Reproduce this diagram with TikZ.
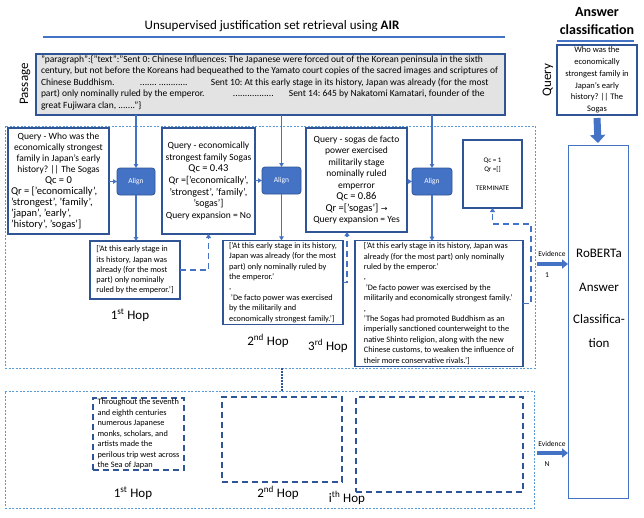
\documentclass[tikz,border=0pt]{standalone}
\usepackage{fontspec}
\setmainfont{Carlito}
\newfontfamily\djv{DejaVu Sans}
\usetikzlibrary{arrows.meta,calc}
\definecolor{bdark}{HTML}{2F5597}
\definecolor{bmid}{HTML}{4472C4}
\definecolor{bpanel}{HTML}{5B9BD5}
\definecolor{pgray}{HTML}{E3E3E3}
\newcommand\myfs[2]{\fontsize{#1}{#2}\selectfont}
\begin{document}
\frenchspacing
\begin{tikzpicture}[x=1pt,y=-1pt,
 every node/.style={inner sep=1pt, outer sep=0pt},
 box/.style={draw=bdark, line width=1.5pt, fill=white, inner sep=2pt},
 panel/.style={draw=bpanel, line width=0.9pt, dash pattern=on 2pt off 1.5pt},
 hdash/.style={draw=bdark, line width=1.8pt, dash pattern=on 6pt off 4pt},
 alignbox/.style={draw=bdark, fill=bmid, rounded corners=3pt, line width=0.8pt, text=white, font=\myfs{7.5}{9}, minimum height=27pt, minimum width=39pt},
 conn/.style={draw=bmid, line width=1.2pt, -{Triangle[length=4pt,width=4.5pt]}},
 dconn/.style={draw=bmid, line width=1.8pt, dash pattern=on 6pt off 4pt, -{Triangle[length=4pt,width=5pt]}},
 hop/.style={font=\myfs{13}{15}},
 fatarrow/.style={draw=bmid, line width=7pt, -{Triangle[length=8pt,width=15pt]}},
 evarrow/.style={draw=bmid, line width=4pt, -{Triangle[length=6pt,width=9pt]}},
 evlabel/.style={font=\myfs{7.5}{9}},
]
\useasboundingbox (0,0) rectangle (644,517);
\fill[white] (0,0) rectangle (644,517);

% panels
\node[panel, minimum width=530pt, minimum height=242pt] (top) at (270,247) {};
\node[panel, minimum width=529pt, minimum height=117pt] (bot) at (269.5,449.5) {};
\draw[bdark, line width=1.6pt, dash pattern=on 1.5pt off 1.5pt] ([xshift=12pt]top.south) -- ([xshift=12.5pt]bot.north);

% titles
\node[font=\myfs{13}{15}] (title) at (272,26) {Unsupervised justification set retrieval using \textbf{AIR}};
\draw[bmid, line width=1.6pt] (43,37) -- (505,37);
\node[font=\bfseries\myfs{14}{17.5}, align=center] (acl) at (597,21) {Answer\\classification};
\draw[bmid, line width=2pt] (557,41) -- (634,41);

% passage
\node[font=\myfs{13}{15}, rotate=90] (plabel) at (25,84) {Passage};
\node[box, fill=pgray, minimum width=469pt, minimum height=61pt, anchor=north west] (passage) at (36,54) {};
\node[anchor=north west, align=left, inner sep=0pt, font=\myfs{9.5}{11.5}] (ptext) at (41,55.5) {"paragraph":\{"text":"Sent 0: Chinese Influences: The Japanese were forced out of the Korean peninsula in the sixth\\
century, but not before the Koreans had bequeathed to the Yamato court copies of the sacred images and scriptures of\\
\makebox[99pt][l]{Chinese Buddhism.}\makebox[71pt][l]{....... ............}Sent 10: At this early stage in its history, Japan was already (for the most\\
\makebox[192pt][l]{part) only nominally ruled by the emperor.}\makebox[56pt][l]{.................}Sent 14: 645 by Nakatomi Kamatari, founder of the\\
great Fujiwara clan, ......."\}};

% query (right)
\node[font=\myfs{13}{15}, rotate=90] (qlabel) at (548,80) {Query};
\node[box, minimum width=80pt, minimum height=70pt, align=center, font=\myfs{8.5}{11.7}] (query) at (597,80) {Who was the\\economically\\strongest family in\\Japan's early\\history? || The\\Sogas};

% roberta
\node[draw=bmid, line width=1pt, minimum width=60pt, minimum height=353pt] (rob) at (598,321.5) {};
\node[align=center, font=\myfs{13}{15}] (robtext) at (599,298) {RoBERTa\\[19pt]Answer\\[17pt]Classifica-\\[9pt]tion};
\draw[fatarrow] ([yshift=-3pt]query.south) -- ([yshift=2pt]rob.north);

% hop 1..3 queries
\node[box, minimum width=101pt, minimum height=106pt, align=center, font=\myfs{9.5}{11}] (q1) at (58.5,181) {Query - Who was the\\economically strongest\\family in Japan's early\\history? || The Sogas\\{\myfs{10.5}{11}Qc = 0}\\
\makebox[95pt][l]{\myfs{10.5}{11}Qr = ['economically',}\\
\makebox[95pt][l]{\myfs{10.5}{11}'strongest', 'family',}\\
\makebox[95pt][l]{\myfs{10.5}{11}'japan', 'early',}\\
\makebox[95pt][l]{\myfs{10.5}{11}'history', 'sogas']}};
\node[box, minimum width=93pt, minimum height=106pt, align=center, font=\myfs{9.5}{11.6}] (q2) at (208.5,181) {Query - economically\\strongest family Sogas\\{\myfs{10.5}{11}Qc = 0.43}\\{\myfs{10}{11}Qr =['economically',}\\{\myfs{10}{11}'strongest', 'family',}\\{\myfs{10}{11}'sogas']}\\Query expansion = No};
\node[box, minimum width=101pt, minimum height=104pt, align=center, font=\myfs{9.5}{11.5}] (q3) at (356.5,180) {Query - sogas de facto\\power exercised\\militarily stage\\nominally ruled\\emperror\\{\myfs{10.5}{11}Qc = 0.86}\\{\myfs{10.5}{11}Qr =['sogas'] {\djv\myfs{8}{11}→}}\\Query expansion = Yes};
\node[box, minimum width=59pt, minimum height=68pt, align=center, font=\myfs{7}{9.5}] (term) at (492.5,174) {Qc = 1\\Qr =[]\\ \\TERMINATE};

% align
\node[alignbox, minimum width=38pt] (al1) at (136,181.5) {Align};
\node[alignbox] (al2) at (281.5,180.5) {Align};
\node[alignbox, minimum width=40pt] (al3) at (432,181.5) {Align};

% results
\node[box, minimum width=90pt, minimum height=58pt, align=left, font=\myfs{8.3}{10.3}] (r1) at (135,270) {['At this early stage in\\its history, Japan was\\already (for the most\\part) only nominally\\ruled by the emperor.']};
\node[box, minimum width=120pt, minimum height=83pt, align=left, font=\myfs{8.3}{10.4}] (r2) at (283,282.5) {['At this early stage in its history,\\Japan was already (for the most\\part) only nominally ruled by\\the emperor.'\\,\\~'De facto power was exercised\\by the militarily and\\economically strongest family.']};
\node[box, minimum width=168pt, minimum height=123pt, align=left, font=\myfs{8.3}{10.4}] (r3) at (439,303.5) {['At this early stage in its history, Japan was\\already (for the most part) only nominally\\ruled by the emperor.'\\,\\~'De facto power was exercised by the\\militarily and economically strongest family.'\\,\\'The Sogas had promoted Buddhism as an\\imperially sanctioned counterweight to the\\native Shinto religion, along with the new\\Chinese customs, to weaken the influence of\\their more conservative rivals.']};

% connectors
\draw[conn] (passage.south -| al1.north) -- (al1.north);
\draw[conn] (passage.south -| al2.north) -- (al2.north);
\draw[conn] (passage.south -| al3.north) -- (al3.north);
\draw[conn] (q1.east |- al1.west) -- (al1.west);
\draw[conn] (q2.east |- al2.west) -- (al2.west);
\draw[conn] (q3.east |- al3.west) -- (al3.west);
\draw[conn] (al1.south) -- (r1.north -| al1.south);
\draw[conn] (al2.south) -- (r2.north -| al2.south);
\draw[conn] (al3.south) -- (r3.north -| al3.south);

\draw[dconn] (r1.east) -| (q2.south);
\draw[dconn] (r2.east) -- ++(4,0) coordinate (t2) -- (t2 |- q3.south);
\draw[dconn] (r3.east) -- ++(8,0) |- ([yshift=-16pt]term.south) -- (term.south);

% hop labels
\node[hop] (h1) at (130,315) {1\textsuperscript{st} Hop};
\node[hop] (h2) at (268,341) {2\textsuperscript{nd} Hop};
\node[hop] (h3) at (328,346) {3\textsuperscript{rd} Hop};

% bottom panel
\node[hdash, minimum width=91pt, minimum height=72pt, align=left, font=\myfs{8.3}{10.5}] (b1) at (138.5,434) {Throughout the seventh\\and eighth centuries\\numerous Japanese\\monks, scholars, and\\artists made the\\perilous trip west across\\the Sea of Japan};
\node[hdash, minimum width=120pt, minimum height=85pt] (b2) at (282,439.5) {};
\node[hdash, minimum width=167pt, minimum height=95pt] (b3) at (439.5,444.5) {};
\node[hop] (bh1) at (133,493) {1\textsuperscript{st} Hop};
\node[hop] (bh2) at (278,493) {2\textsuperscript{nd} Hop};
\node[hop] (bh3) at (347,498) {i\textsuperscript{th} Hop};

% evidence arrows
\coordinate (e1) at (537,264);
\coordinate (e2) at (537,453);
\draw[evarrow] (e1) -- (e1 -| rob.west);
\draw[evarrow] (e2) -- (e2 -| rob.west);
\node[evlabel] (ev1) at (552,254) {Evidence};
\node[evlabel] (ev1n) at (547,275) {1};
\node[evlabel] (ev2) at (552,444) {Evidence};
\node[evlabel] (ev2n) at (547,464) {N};
\end{tikzpicture}
\end{document}
